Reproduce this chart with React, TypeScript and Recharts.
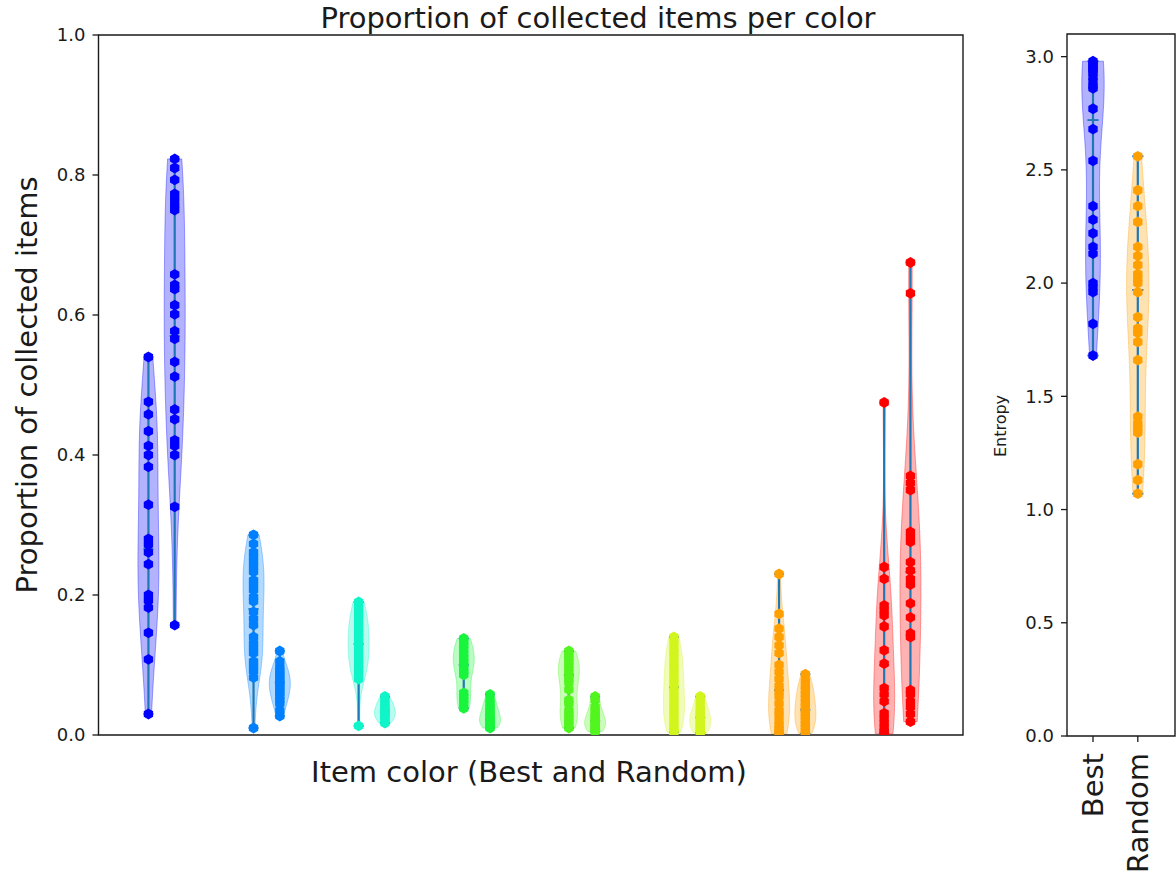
import React from "react"
import { ComposedChart, Scatter, XAxis, YAxis, ReferenceArea } from "recharts"

// ── data ──────────────────────────────────────────────────────────────────────

const ITEM_COLORS = ["#0000ff", "#0080ff", "#10f5c8", "#19f53c", "#52f51e", "#d2f51e", "#ff9f00", "#ff0000"]

const BLUE_BEST = [0.54, 0.476, 0.458, 0.434, 0.413, 0.4, 0.383, 0.329, 0.28, 0.272, 0.261, 0.244, 0.2, 0.192, 0.182, 0.146, 0.108, 0.03]
const BLUE_RANDOM = [0.823, 0.81, 0.793, 0.773, 0.765, 0.757, 0.75, 0.658, 0.643, 0.637, 0.614, 0.601, 0.577, 0.566, 0.533, 0.512, 0.465, 0.451, 0.421, 0.413, 0.4, 0.326, 0.157]
const AZURE_BEST = [0.286, 0.273, 0.261, 0.254, 0.247, 0.24, 0.233, 0.221, 0.214, 0.207, 0.197, 0.191, 0.176, 0.166, 0.157, 0.14, 0.131, 0.124, 0.117, 0.105, 0.098, 0.091, 0.082, 0.01]
const AZURE_RANDOM = [0.12, 0.105, 0.097, 0.092, 0.088, 0.084, 0.08, 0.076, 0.072, 0.068, 0.064, 0.06, 0.055, 0.05, 0.045, 0.035, 0.027]
const CYAN_BEST = [0.19, 0.182, 0.175, 0.168, 0.16, 0.153, 0.146, 0.14, 0.134, 0.128, 0.12, 0.113, 0.106, 0.1, 0.094, 0.088, 0.08, 0.013]
const CYAN_RANDOM = [0.055, 0.05, 0.045, 0.041, 0.037, 0.034, 0.031, 0.028, 0.025, 0.021, 0.017]
const GREEN_BEST = [0.138, 0.133, 0.128, 0.122, 0.116, 0.11, 0.105, 0.1, 0.095, 0.09, 0.086, 0.06, 0.055, 0.05, 0.045, 0.038]
const GREEN_RANDOM = [0.058, 0.05, 0.045, 0.04, 0.035, 0.031, 0.027, 0.024, 0.021, 0.018, 0.015, 0.012, 0.01]
const LIME_BEST = [0.12, 0.115, 0.11, 0.105, 0.1, 0.095, 0.09, 0.085, 0.08, 0.075, 0.065, 0.05, 0.045, 0.035, 0.03, 0.025, 0.02, 0.015, 0.01]
const LIME_RANDOM = [0.055, 0.05, 0.04, 0.035, 0.03, 0.026, 0.022, 0.019, 0.016, 0.013, 0.01, 0.007, 0.005]
const YELLOW_BEST = [0.14, 0.132, 0.124, 0.117, 0.11, 0.102, 0.095, 0.088, 0.08, 0.074, 0.068, 0.062, 0.055, 0.048, 0.042, 0.036, 0.03, 0.024, 0.018, 0.012, 0.008, 0.004]
const YELLOW_RANDOM = [0.055, 0.05, 0.042, 0.036, 0.032, 0.028, 0.025, 0.021, 0.017, 0.013, 0.01, 0.006, 0.003]
const ORANGE_BEST = [0.23, 0.173, 0.152, 0.14, 0.128, 0.117, 0.1, 0.09, 0.08, 0.07, 0.062, 0.055, 0.045, 0.035, 0.028, 0.02, 0.014, 0.009, 0.005, 0.002]
const ORANGE_RANDOM = [0.087, 0.078, 0.07, 0.064, 0.058, 0.052, 0.046, 0.041, 0.036, 0.031, 0.026, 0.021, 0.016, 0.011, 0.006, 0.002]
const RED_BEST = [0.475, 0.24, 0.223, 0.185, 0.178, 0.171, 0.155, 0.121, 0.102, 0.067, 0.058, 0.048, 0.031, 0.024, 0.017, 0.01, 0.005, 0.002]
const RED_RANDOM = [0.675, 0.631, 0.37, 0.36, 0.35, 0.29, 0.283, 0.276, 0.247, 0.235, 0.223, 0.215, 0.188, 0.168, 0.145, 0.14, 0.064, 0.058, 0.048, 0.04, 0.03, 0.019]

const MEDIANS_BEST = [0.266, 0.18, 0.13, 0.1, 0.086, 0.068, 0.064, 0.1]
const MEDIANS_RANDOM = [0.57, 0.075, 0.033, 0.022, 0.02, 0.025, 0.036, 0.233]

const ENTROPY_LABELS = ["Best", "Random"]
const ENTROPY_COLORS = ["#0000ff", "#ff9f00"]
const ENTROPY_BEST = [2.98, 2.97, 2.96, 2.95, 2.94, 2.93, 2.91, 2.89, 2.87, 2.86, 2.77, 2.68, 2.54, 2.34, 2.28, 2.22, 2.16, 2.13, 2.0, 1.98, 1.96, 1.82, 1.68]
const ENTROPY_RANDOM = [2.56, 2.41, 2.34, 2.27, 2.16, 2.12, 2.08, 2.04, 2.02, 2.0, 1.96, 1.85, 1.8, 1.78, 1.74, 1.66, 1.41, 1.38, 1.36, 1.34, 1.2, 1.13, 1.07]
const ENTROPY_MEDIANS = [2.72, 1.97]

const Y_TICKS = [0, 0.2, 0.4, 0.6, 0.8, 1.0]
const ENTROPY_TICKS = [0, 0.5, 1.0, 1.5, 2.0, 2.5, 3.0]

// ── style ─────────────────────────────────────────────────────────────────────

const FONT = "'DejaVu Sans', sans-serif"
const INK = "#1a1a1a"
const BAR = "#1f77b4"

const groups = ITEM_COLORS.map((color, i) => ({
  color,
  best: [BLUE_BEST, AZURE_BEST, CYAN_BEST, GREEN_BEST, LIME_BEST, YELLOW_BEST, ORANGE_BEST, RED_BEST][i],
  random: [BLUE_RANDOM, AZURE_RANDOM, CYAN_RANDOM, GREEN_RANDOM, LIME_RANDOM, YELLOW_RANDOM, ORANGE_RANDOM, RED_RANDOM][i],
  medBest: MEDIANS_BEST[i],
  medRandom: MEDIANS_RANDOM[i],
}))

// gaussian kde outline (scott bandwidth), cut at the data extremes like matplotlib
function violinOutline(values: number[], pos: number, half: number) {
  const n = values.length
  const mean = values.reduce((a, b) => a + b, 0) / n
  const sd = Math.sqrt(values.reduce((a, b) => a + (b - mean) ** 2, 0) / (n - 1))
  const bw = sd * Math.pow(n, -0.2)
  const lo = Math.min(...values)
  const hi = Math.max(...values)
  const steps = 80
  const ys = Array.from({ length: steps }, (_, i) => lo + ((hi - lo) * i) / (steps - 1))
  const dens = ys.map(y => values.reduce((s, v) => s + Math.exp(-0.5 * ((y - v) / bw) ** 2), 0))
  const top = Math.max(...dens)
  const right = ys.map((y, i) => ({ x: pos + (half * dens[i]) / top, y }))
  const left = ys.map((y, i) => ({ x: pos - (half * dens[i]) / top, y })).reverse()
  return [...right, ...left, right[0]]
}

const noShape = () => <g />

const hexShape = (color: string, r: number) => (p: any) => {
  const pts = [0, 60, 120, 180, 240, 300]
    .map(a => {
      const t = ((a - 90) * Math.PI) / 180
      return `${p.cx + r * Math.cos(t)},${p.cy + r * Math.sin(t)}`
    })
    .join(" ")
  return <polygon points={pts} fill={color} />
}

const dashShape = (hw: number) => (p: any) => (
  <line x1={p.cx - hw} x2={p.cx + hw} y1={p.cy} y2={p.cy} stroke={BAR} strokeWidth={1.8} />
)

type Violin = { pos: number; values: number[]; color: string; median: number }

function violinLayers(v: Violin[], half: number, capHalf: number, r: number) {
  const out: React.ReactNode[] = []
  v.forEach((d, i) => {
    out.push(
      <Scatter
        key={`body-${i}`}
        data={violinOutline(d.values, d.pos, half)}
        shape={noShape}
        lineType="joint"
        line={{ fill: d.color, fillOpacity: 0.3, stroke: d.color, strokeOpacity: 0.35, strokeWidth: 1 }}
        isAnimationActive={false}
      />
    )
  })
  v.forEach((d, i) => {
    out.push(
      <Scatter
        key={`bar-${i}`}
        data={[{ x: d.pos, y: Math.min(...d.values) }, { x: d.pos, y: Math.max(...d.values) }]}
        shape={noShape}
        lineType="joint"
        line={{ stroke: BAR, strokeWidth: 2.2 }}
        isAnimationActive={false}
      />
    )
  })
  const dashes = v.flatMap(d => [
    { x: d.pos, y: Math.min(...d.values) },
    { x: d.pos, y: Math.max(...d.values) },
    { x: d.pos, y: d.median },
  ])
  out.push(<Scatter key="dashes" data={dashes} shape={dashShape(capHalf)} isAnimationActive={false} />)
  v.forEach((d, i) => {
    out.push(
      <Scatter
        key={`pts-${i}`}
        data={d.values.map(y => ({ x: d.pos, y }))}
        shape={hexShape(d.color, r)}
        isAnimationActive={false}
      />
    )
  })
  return out
}

const tickStyle = { fill: INK, fontSize: 18, fontFamily: FONT }

function EntropyTick(props: any) {
  const { x, y, payload } = props
  return (
    <text
      x={x}
      y={y}
      transform={`rotate(-90, ${x}, ${y})`}
      textAnchor="end"
      dy="0.36em"
      fill={INK}
      fontSize={29}
      fontFamily={FONT}
    >
      {ENTROPY_LABELS[payload.value - 1]}
    </text>
  )
}

export default function App() {
  const mainViolins: Violin[] = groups.flatMap((g, i) => [
    { pos: 4 * i + 1, values: g.best, color: g.color, median: g.medBest },
    { pos: 4 * i + 2, values: g.random, color: g.color, median: g.medRandom },
  ])
  const entropyViolins: Violin[] = [
    { pos: 1, values: ENTROPY_BEST, color: ENTROPY_COLORS[0], median: ENTROPY_MEDIANS[0] },
    { pos: 2, values: ENTROPY_RANDOM, color: ENTROPY_COLORS[1], median: ENTROPY_MEDIANS[1] },
  ]

  return (
    <div style={{ position: "absolute", left: 0, top: 0, width: 1176, height: 876, background: "#fff", overflow: "hidden" }}>
      <div style={{ position: "absolute", left: 0, top: 0 }}>
        <ComposedChart width={980} height={876} margin={{ top: 35, right: 17, bottom: 141, left: 38.5 }}>
          <XAxis type="number" dataKey="x" domain={[-0.9, 32]} hide allowDataOverflow />
          <YAxis
            type="number"
            dataKey="y"
            domain={[0, 1]}
            ticks={Y_TICKS}
            tickFormatter={(v: number) => v.toFixed(1)}
            width={60}
            axisLine={false}
            tickLine={{ stroke: INK, strokeWidth: 1.3 }}
            tickSize={6}
            tickMargin={7}
            tick={tickStyle}
            interval={0}
            allowDataOverflow
          />
          {violinLayers(mainViolins, 0.4, 5, 5.4)}
          <ReferenceArea x1={-0.9} x2={32} y1={0} y2={1} fill="none" stroke={INK} strokeWidth={1.4} ifOverflow="visible" />
        </ComposedChart>
      </div>

      <div style={{ position: "absolute", left: 980, top: 0 }}>
        <ComposedChart width={196} height={876} margin={{ top: 34, right: 1, bottom: 0, left: 37 }}>
          <XAxis
            type="number"
            dataKey="x"
            domain={[0.42, 2.83]}
            ticks={[1, 2]}
            interval={0}
            height={140}
            axisLine={false}
            tickLine={{ stroke: INK, strokeWidth: 1.3 }}
            tickSize={6}
            tickMargin={11}
            tick={<EntropyTick />}
            allowDataOverflow
          />
          <YAxis
            type="number"
            dataKey="y"
            domain={[0, 3.1]}
            ticks={ENTROPY_TICKS}
            tickFormatter={(v: number) => v.toFixed(1)}
            width={50}
            axisLine={false}
            tickLine={{ stroke: INK, strokeWidth: 1.3 }}
            tickSize={6}
            tickMargin={7}
            tick={tickStyle}
            interval={0}
            allowDataOverflow
          />
          {violinLayers(entropyViolins, 0.25, 5.6, 5.4)}
          <ReferenceArea x1={0.42} x2={2.83} y1={0} y2={3.1} fill="none" stroke={INK} strokeWidth={1.4} ifOverflow="visible" />
        </ComposedChart>
      </div>

      <svg width={1176} height={876} style={{ position: "absolute", left: 0, top: 0, pointerEvents: "none" }}>
        <text x={598} y={28} textAnchor="middle" fontSize={29} fontFamily={FONT} fill={INK}>
          Proportion of collected items per color
        </text>
        <text x={529} y={782} textAnchor="middle" fontSize={29} fontFamily={FONT} fill={INK}>
          Item color (Best and Random)
        </text>
        <text transform="translate(37,385) rotate(-90)" textAnchor="middle" fontSize={29} fontFamily={FONT} fill={INK}>
          Proportion of collected items
        </text>
        <text transform="translate(1006,426) rotate(-90)" textAnchor="middle" fontSize={16} fontFamily={FONT} fill={INK}>
          Entropy
        </text>
      </svg>
    </div>
  )
}
